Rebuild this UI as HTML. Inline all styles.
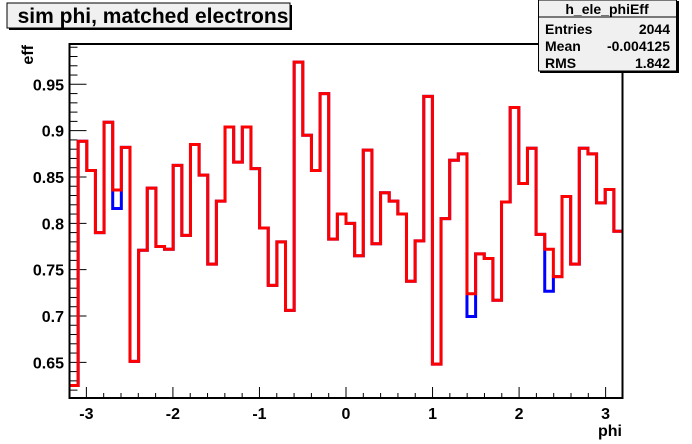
<!DOCTYPE html>
<html><head><meta charset="utf-8"><style>
body{margin:0;background:#fff;}
svg{display:block;font-family:"Liberation Sans",Arial,sans-serif;font-weight:bold;}
</style></head><body>
<svg id="c" width="692" height="444" viewBox="0 0 692 444">
<rect x="0" y="0" width="692" height="444" fill="#fff"/>
<g id="axes"></g>
<g id="series"></g>
<rect x="69.5" y="44" width="553" height="354" fill="none" stroke="#000" stroke-width="2"/>
<g>
<rect x="9" y="5" width="283" height="25" fill="#000"/>
<rect x="7" y="3" width="283" height="25" fill="#f0f0f0" stroke="#000" stroke-width="1"/>
<text x="153" y="23" text-anchor="middle" font-size="21">sim phi, matched electrons</text>
</g>
<g>
<rect x="540" y="1" width="139" height="72" fill="#000"/>
<rect x="538.5" y="0" width="138" height="71" fill="#f0f0f0" stroke="#000" stroke-width="1"/>
<line x1="538.5" y1="17" x2="676.5" y2="17" stroke="#000" stroke-width="1"/>
<text x="607" y="14" text-anchor="middle" font-size="14">h_ele_phiEff</text>
<text x="545" y="34" font-size="14">Entries</text>
<text x="670" y="34" text-anchor="end" font-size="14">2044</text>
<text x="545" y="51" font-size="14">Mean</text>
<text x="670" y="51" text-anchor="end" font-size="14">-0.004125</text>
<text x="545" y="68" font-size="14">RMS</text>
<text x="670" y="68" text-anchor="end" font-size="14">1.842</text>
</g>
<text x="622" y="436" text-anchor="end" font-size="16">phi</text>
<text transform="translate(33,45) rotate(-90)" text-anchor="end" font-size="16">eff</text>
</svg>
<script>
const redValues=[0.625,0.8885,0.857,0.790,0.909,0.836,0.882,0.651,0.771,0.838,0.775,0.772,0.8625,0.787,0.885,0.852,0.756,0.824,0.904,0.866,0.904,0.859,0.795,0.733,0.780,0.706,0.974,0.895,0.857,0.940,0.783,0.810,0.800,0.765,0.879,0.778,0.833,0.824,0.810,0.7375,0.781,0.937,0.648,0.805,0.868,0.875,0.724,0.767,0.762,0.717,0.823,0.925,0.843,0.881,0.788,0.772,0.7425,0.829,0.756,0.881,0.875,0.822,0.8365,0.7915];
const blueValues=[0.625,0.8885,0.857,0.790,0.909,0.816,0.882,0.651,0.771,0.838,0.775,0.772,0.8625,0.787,0.885,0.852,0.756,0.824,0.904,0.866,0.904,0.859,0.795,0.733,0.780,0.706,0.974,0.895,0.857,0.940,0.783,0.810,0.800,0.765,0.879,0.778,0.833,0.824,0.810,0.7375,0.781,0.937,0.648,0.805,0.868,0.875,0.6995,0.767,0.762,0.717,0.823,0.925,0.843,0.881,0.788,0.7267,0.7425,0.829,0.756,0.881,0.875,0.822,0.8365,0.7915];
const xTickLabels=["-3","-2","-1","0","1","2","3"];
const yTickLabels=["0.65","0.7","0.75","0.8","0.85","0.9","0.95"];
const XMIN=-3.195,XMAX=3.195,YMIN=0.6115,YMAX=0.9935;
const L=69.5,R=622.5,T=44,B=398;
function xs(v){return L+(v-XMIN)/(XMAX-XMIN)*(R-L);}
function ys(v){return B-(v-YMIN)/(YMAX-YMIN)*(B-T);}
const NS="http://www.w3.org/2000/svg";
const axes=document.getElementById('axes'),series=document.getElementById('series');
function ln(x1,y1,x2,y2,name){const l=document.createElementNS(NS,'line');
l.setAttribute('x1',x1);l.setAttribute('y1',y1);l.setAttribute('x2',x2);l.setAttribute('y2',y2);
l.setAttribute('stroke','#000');l.setAttribute('stroke-width','1');


axes.appendChild(l);}
function tx(x,y,s,anchor,name){const t=document.createElementNS(NS,'text');
t.setAttribute('x',x);t.setAttribute('y',y);t.setAttribute('text-anchor',anchor);t.setAttribute('font-size','16');t.textContent=s;


axes.appendChild(t);}
for(let i=-16;i<=16;i++){const v=i*0.2;if(v<XMIN||v>XMAX)continue;const x=xs(v);const major=Math.abs(i%5)===0;ln(x,B,x,B-(major?11:5),major?'x-major-tick':'x-minor-tick');}
xTickLabels.forEach(s=>{tx(xs(parseFloat(s)),419,s,'middle','x-tick-label');});
for(let i=62;i<=99;i++){const v=i/100;const y=ys(v);const major=i%5===0;ln(L,y,L+(major?17:8),y,major?'y-major-tick':'y-minor-tick');}
yTickLabels.forEach(s=>{tx(64,ys(parseFloat(s))+6,s,'end','y-tick-label');});
function hist(vals,color,name){const n=vals.length;const w=(XMAX-XMIN)/n;let d='';
vals.forEach((v,i)=>{const x0=xs(XMIN+i*w),x1=xs(XMIN+(i+1)*w),y=ys(v);d+=(i===0?'M'+x0+','+y:'L'+x0+','+y)+'L'+x1+','+y;});
const p=document.createElementNS(NS,'path');p.setAttribute('d',d);p.setAttribute('fill','none');p.setAttribute('stroke',color);p.setAttribute('stroke-width','3');


series.appendChild(p);}
hist(blueValues,'#0000ff','blue-histogram');
hist(redValues,'#ff0000','red-histogram');
</script>
</body></html>
